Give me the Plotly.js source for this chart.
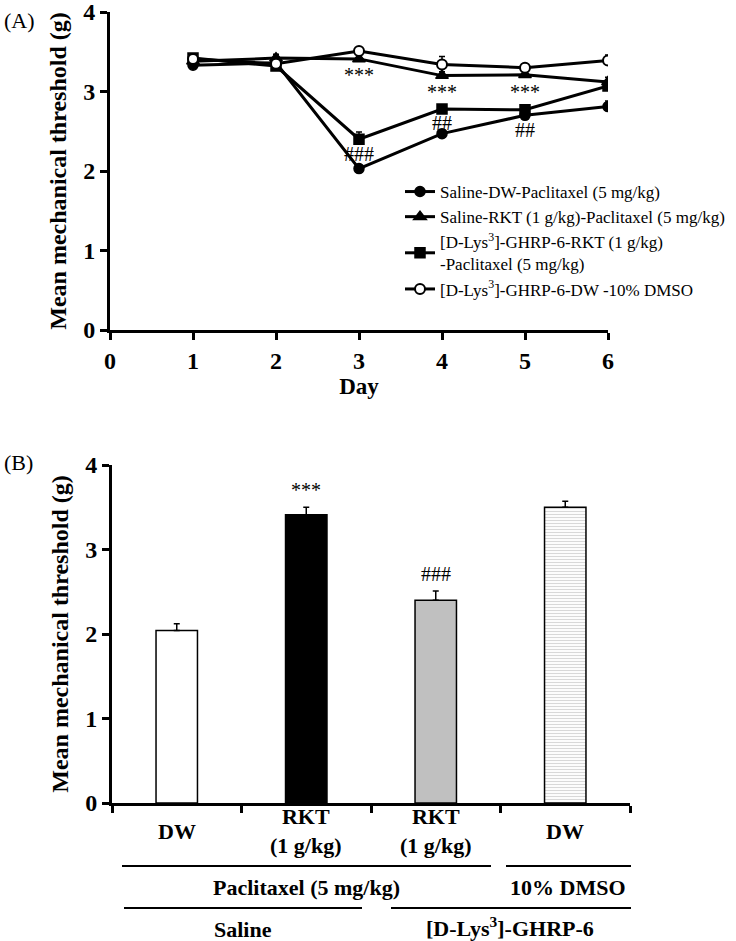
<!DOCTYPE html>
<html><head><meta charset="utf-8">
<script src="https://cdn.plot.ly/plotly-3.0.1.min.js"></script>
<style>body{margin:0;background:#fff}#c{width:736px;height:941px}</style>
</head><body><div id="c"></div>
<script>
// Panel A data
const days = [1, 2, 3, 4, 5, 6];
const seriesNames = [
  "Saline-DW-Paclitaxel (5 mg/kg)",
  "Saline-RKT (1 g/kg)-Paclitaxel (5 mg/kg)",
  "[D-Lys<sup>3</sup>]-GHRP-6-RKT (1 g/kg)<br>-Paclitaxel (5 mg/kg)",
  "[D-Lys<sup>3</sup>]-GHRP-6-DW -10% DMSO"
];
const salineDW   = [3.33, 3.36, 2.03, 2.47, 2.70, 2.81];
const salineDWerr = [0.03, 0.03, 0.04, 0.04, 0.04, 0.07];
const salineRKT  = [3.38, 3.42, 3.41, 3.20, 3.21, 3.12];
const salineRKTerr = [0.03, 0.05, 0.04, 0.05, 0.04, 0.06];
const ghrpRKT    = [3.42, 3.32, 2.40, 2.78, 2.77, 3.07];
const ghrpRKTerr = [0.05, 0.04, 0.09, 0.05, 0.05, 0.04];
const ghrpDW     = [3.41, 3.35, 3.51, 3.34, 3.30, 3.39];
const ghrpDWerr  = [0.03, 0.03, 0.03, 0.10, 0.05, 0.07];
const starDaysA = [3, 4, 5];
const starYA = [3.21, 2.99, 2.99];
const hashDaysA = [3, 4, 5];
const hashYA = [2.22, 2.60, 2.52];
const hashTextA = ["###", "##", "##"];

// Panel B data
const barPos = [1, 2, 3, 4];
const barLabels = ["DW", "RKT<br>(1 g/kg)", "RKT<br>(1 g/kg)", "DW"];
const barValues = [2.04, 3.41, 2.40, 3.50];
const barErr = [0.08, 0.09, 0.11, 0.07];
const barSig = ["", "***", "###", ""];
const barBoundaries = [0.5, 1.5, 2.5, 3.5, 4.5];
const groupTexts = ["Paclitaxel (5 mg/kg)", "10% DMSO", "Saline", "[D-Lys<sup>3</sup>]-GHRP-6"];

const F = "Liberation Serif, Times New Roman, serif";
const W = 736, H = 941;
const px = v => v / W, py = v => 1 - v / H;

const markerLine = {color: "#000", width: 1.5};
const errA = (arr) => ({type: "data", array: arr, arrayminus: arr.map(() => 0), symmetric: false, color: "#000", thickness: 1.5, width: 3});

const traces = [
  {x: days, y: salineDW, name: seriesNames[0], mode: "lines+markers", error_y: errA(salineDWerr),
   line: {color: "#000", width: 3}, marker: {symbol: "circle", size: 10, color: "#000", line: markerLine}, xaxis: "x", yaxis: "y"},
  {x: days, y: salineRKT, name: seriesNames[1], mode: "lines+markers", error_y: errA(salineRKTerr),
   line: {color: "#000", width: 3}, marker: {symbol: "triangle-up", size: 11, color: "#000", line: markerLine}, xaxis: "x", yaxis: "y"},
  {x: days, y: ghrpRKT, name: seriesNames[2], mode: "lines+markers", error_y: errA(ghrpRKTerr),
   line: {color: "#000", width: 3}, marker: {symbol: "square", size: 10, color: "#000", line: markerLine}, xaxis: "x", yaxis: "y"},
  {x: days, y: ghrpDW, name: seriesNames[3], mode: "lines+markers", error_y: errA(ghrpDWerr),
   line: {color: "#000", width: 3}, marker: {symbol: "circle", size: 10, color: "#fff", line: {color: "#000", width: 2}}, xaxis: "x", yaxis: "y"},
  {x: barPos, y: barValues, type: "bar", width: 0.32, showlegend: false, xaxis: "x2", yaxis: "y2",
   marker: {color: ["#fff", "#000", "#c0c0c0", "#d8d8d8"], line: {color: "#000", width: 1.5},
     pattern: {shape: ["", "", "", "-"], fgcolor: "#8c8c8c", bgcolor: "#e6e6e6", size: 3, solidity: 0.4}},
   error_y: {type: "data", array: barErr, arrayminus: barErr.map(() => 0), symmetric: false, color: "#000", thickness: 1.5, width: 3}}
];

const axisCommon = {showline: true, linecolor: "#000", linewidth: 3, ticks: "outside", ticklen: 7, tickwidth: 3, tickcolor: "#000",
  showgrid: false, zeroline: false, ticklabeloverflow: "allow", automargin: false,
  tickfont: {family: F, size: 24, color: "#000", weight: "bold"}};

const sigFont = {family: F, size: 20, color: "#000"};
const annotations = [];
annotations.push({xref: "paper", yref: "paper", x: px(2), y: py(20), xanchor: "left", yanchor: "middle", text: "(A)", showarrow: false, font: {family: F, size: 22, color: "#000"}});
annotations.push({xref: "paper", yref: "paper", x: px(2), y: py(463), xanchor: "left", yanchor: "middle", text: "(B)", showarrow: false, font: {family: F, size: 22, color: "#000"}});
starDaysA.forEach((d, i) => annotations.push({xref: "x", yref: "y", x: d, y: starYA[i], xanchor: "center", text: "***", showarrow: false, font: sigFont}));
hashDaysA.forEach((d, i) => annotations.push({xref: "x", yref: "y", x: d, y: hashYA[i], xanchor: "center", text: hashTextA[i], showarrow: false, font: sigFont}));
barPos.forEach((c, i) => {
  if (barSig[i]) annotations.push({xref: "x2", yref: "y2", x: c, y: barValues[i] + barErr[i] + 0.05, xanchor: "center", yanchor: "bottom", text: barSig[i], showarrow: false, font: sigFont});
  annotations.push({xref: "x2", yref: "paper", x: c, y: py(831), xanchor: "center", yanchor: "middle", text: barLabels[i], showarrow: false, font: {family: F, size: 22, color: "#000", weight: "bold"}});
});
const groupPos = [[306, 887], [568, 887], [243, 929], [510, 927]];
groupTexts.forEach((t, i) => annotations.push({xref: "paper", yref: "paper", x: px(groupPos[i][0]), y: py(groupPos[i][1]), xanchor: "center", yanchor: "middle", text: t, showarrow: false, font: {family: F, size: 22, color: "#000", weight: "bold"}}));

const groupLines = [[122, 491, 866], [506, 631, 866], [124, 362, 908], [391, 631, 908]];
const shapes = groupLines.map(l => ({type: "line", xref: "paper", yref: "paper", x0: px(l[0]), x1: px(l[1]), y0: py(l[2]), y1: py(l[2]), line: {color: "#000", width: 2}}));

const yTitle = {text: "<b>Mean mechanical threshold (g)</b>", font: {family: F, size: 24, color: "#000"}, standoff: 10};
const layout = {
  width: W, height: H, margin: {l: 0, r: 0, t: 0, b: 0, autoexpand: false}, paper_bgcolor: "#fff", plot_bgcolor: "#fff",
  font: {family: F, color: "#000"},
  showlegend: true,
  legend: {x: px(400), y: py(174), xanchor: "left", yanchor: "top", bgcolor: "rgba(0,0,0,0)", font: {family: F, size: 17, color: "#000"}, tracegroupgap: 4, itemwidth: 30},
  xaxis: Object.assign({}, axisCommon, {domain: [px(110), px(608)], range: [0, 6], tickvals: [0, 1, 2, 3, 4, 5, 6], anchor: "y",
    title: {text: "<b>Day</b>", font: {family: F, size: 23, color: "#000"}, standoff: 4}}),
  yaxis: Object.assign({}, axisCommon, {domain: [py(330), py(12)], range: [0, 4], tickvals: [0, 1, 2, 3, 4], anchor: "x", title: yTitle}),
  xaxis2: Object.assign({}, axisCommon, {domain: [px(112), px(630)], range: [0.5, 4.5], tickvals: barBoundaries,
    showticklabels: false, anchor: "y2"}),
  yaxis2: Object.assign({}, axisCommon, {domain: [py(803), py(465)], range: [0, 4], tickvals: [0, 1, 2, 3, 4], anchor: "x2", title: yTitle}),
  annotations: annotations,
  shapes: shapes
};

Plotly.newPlot("c", traces, layout, {displayModeBar: false, staticPlot: true});
</script></body></html>
